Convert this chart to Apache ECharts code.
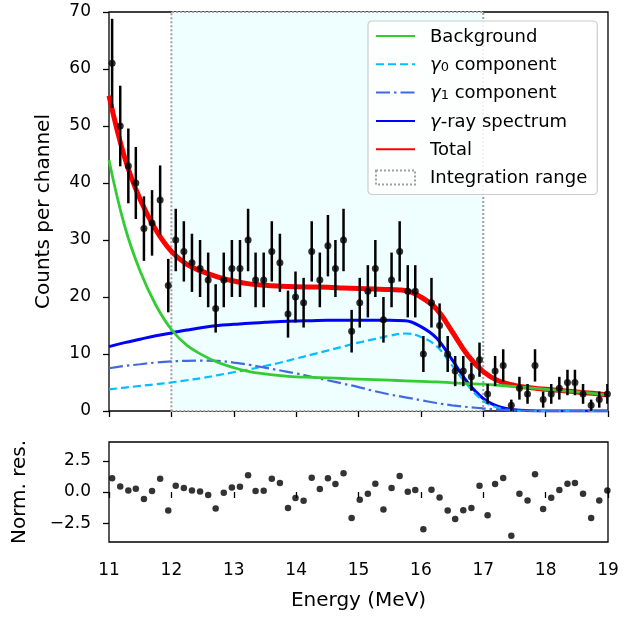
<!DOCTYPE html>
<html>
<head>
<meta charset="utf-8">
<script src="https://cdn.jsdelivr.net/npm/echarts@6/dist/echarts.min.js"></script>
<style>
html, body { margin: 0; padding: 0; background: #fff; }
#chart { width: 634px; height: 618px; }
</style>
</head>
<body>
<div id="chart"></div>
<script>
// channel centres (MeV) and counts
const energies = [11.05, 11.18, 11.31, 11.43, 11.56, 11.69, 11.82, 11.95, 12.07, 12.20,
    12.33, 12.46, 12.59, 12.71, 12.84, 12.97, 13.10, 13.23, 13.35, 13.48,
    13.61, 13.74, 13.87, 13.99, 14.12, 14.25, 14.38, 14.51, 14.63, 14.76,
    14.89, 15.02, 15.15, 15.27, 15.40, 15.53, 15.66, 15.79, 15.91, 16.04,
    16.17, 16.30, 16.43, 16.55, 16.68, 16.81, 16.94, 17.07, 17.19, 17.32,
    17.45, 17.58, 17.71, 17.83, 17.96, 18.09, 18.22, 18.35, 18.47, 18.60,
    18.73, 18.86, 18.99];
const counts = [61, 50, 43, 40, 32, 33, 37, 22, 30, 28,
    26, 25, 23, 18, 23, 25, 25, 30, 23, 23,
    28, 26, 17, 20, 19, 28, 23, 29, 25, 30,
    14, 19, 21, 25, 16, 23, 28, 21, 21, 10,
    19, 15, 10, 7, 7, 6, 9, 3, 7, 8,
    1, 4, 3, 8, 2, 3, 4, 5, 5, 3,
    1, 2, 3];
const residuals = [1.1, 0.45, 0.13, 0.27, -0.56, 0.08, 1.07, -1.48, 0.5, 0.32,
    0.13, 0.05, -0.24, -1.32, -0.06, 0.37, 0.43, 1.34, 0.08, 0.1,
    1.07, 0.72, -1.27, -0.48, -0.7, 1.15, 0.24, 1.1, 0.64, 1.5,
    -2.07, -0.62, -0.14, 0.67, -1.4, 0.32, 1.29, 0.02, 0.16, -2.98,
    0.19, -0.43, -1.48, -2.15, -1.45, -1.27, 0.51, -1.86, 0.64, 1.13,
    -3.5, -0.14, -0.68, 1.42, -1.35, -0.46, 0.16, 0.67, 0.72, -0.14,
    -2.07, -0.68, 0.13];

// fit curves read every 0.25 MeV
const curveE = [11, 11.25, 11.5, 11.75, 12, 12.25, 12.5, 12.75, 13, 13.25, 13.5, 13.75,
    14, 14.25, 14.5, 14.75, 15, 15.25, 15.5, 15.75, 16, 16.25, 16.5, 16.75,
    17, 17.25, 17.5, 17.75, 18, 18.25, 18.5, 18.75, 19];
const background = [44.0, 32.5, 24.5, 18.6, 14.3, 11.5, 9.8, 8.5, 7.6, 6.9, 6.5, 6.2,
    6.0, 5.9, 5.8, 5.7, 5.6, 5.5, 5.4, 5.3, 5.2, 5.1, 4.95, 4.8,
    4.7, 4.5, 4.3, 4.05, 3.8, 3.6, 3.35, 3.1, 2.8];
const gamma0 = [3.8, 4.1, 4.4, 4.7, 5.0, 5.4, 5.8, 6.3, 6.8, 7.3, 7.9, 8.5,
    9.2, 9.9, 10.6, 11.3, 12.0, 12.6, 13.2, 13.6, 13.0, 11.4, 8.0, 4.5,
    1.8, 0.5, 0.1, 0, 0, 0, 0, 0, 0];
const gamma1 = [7.5, 7.9, 8.2, 8.5, 8.7, 8.8, 8.85, 8.8, 8.5, 8.1, 7.6, 7.1,
    6.6, 6.0, 5.4, 4.8, 4.2, 3.5, 2.9, 2.4, 1.9, 1.4, 1.0, 0.7,
    0.45, 0.25, 0.1, 0.05, 0, 0, 0, 0, 0];
const gammaSpectrum = [11.3, 12.0, 12.6, 13.2, 13.7, 14.2, 14.65, 15.0, 15.2, 15.4, 15.55, 15.7,
    15.8, 15.85, 15.9, 15.9, 15.9, 15.9, 15.9, 15.85, 14.8, 12.8, 9.0, 5.0,
    2.2, 0.75, 0.2, 0.05, 0, 0, 0, 0, 0];
const total = [55.3, 44.5, 37.1, 31.8, 28.0, 25.7, 24.45, 23.5, 22.8, 22.3, 22.05, 21.9,
    21.8, 21.75, 21.7, 21.6, 21.5, 21.4, 21.3, 21.15, 20.0, 17.9, 13.95, 9.8,
    6.9, 5.25, 4.5, 4.1, 3.8, 3.6, 3.35, 3.1, 2.8];

const integrationRange = [12, 17];
const resTicks = [-2.5, 0, 2.5];

const FONT = 'DejaVu Sans';
const pairs = (xs, ys) => xs.map((x, i) => [x, ys[i]]);

const legendLabels = {
    'Background': '{t|Background}',
    'γ0 component': '{g|γ}{s|0}{t| component}',
    'γ1 component': '{g|γ}{s|1}{t| component}',
    'γ-ray spectrum': '{g|γ}{t|-ray spectrum}',
    'Total': '{t|Total}',
    'Integration range': '{t|Integration range}',
};

const noDot = { color: 'rgba(0,0,0,0)', borderWidth: 0 };

function curve(name, ys, color, width, type, z) {
    return {
        name: name,
        type: 'line',
        xAxisIndex: 0,
        yAxisIndex: 0,
        data: pairs(curveE, ys),
        symbol: 'none',
        smooth: 0.4,
        z: z,
        lineStyle: { color: color, width: width, type: type },
        itemStyle: { color: color },
    };
}

const option = {
    animation: false,
    textStyle: { fontFamily: FONT },
    grid: [
        { left: 109, right: 26, top: 12, height: 399, show: true, borderColor: '#000', borderWidth: 1.3, backgroundColor: 'transparent' },
        { left: 109, right: 26, top: 442, height: 100, show: true, borderColor: '#000', borderWidth: 1.3, backgroundColor: 'transparent' },
    ],
    legend: {
        orient: 'vertical',
        left: 368,
        top: 21,
        itemWidth: 39,
        itemHeight: 14,
        itemGap: 8.3,
        padding: [7, 10, 7, 7],
        backgroundColor: 'rgba(255,255,255,0.85)',
        borderColor: '#cccccc',
        borderWidth: 1.2,
        borderRadius: 4,
        selectedMode: false,
        formatter: name => legendLabels[name],
        textStyle: {
            padding: [0, 0, 0, 10],
            rich: {
                t: { fontFamily: FONT, fontSize: 18, color: '#000', lineHeight: 20, verticalAlign: 'bottom' },
                g: { fontFamily: FONT, fontSize: 18, color: '#000', lineHeight: 20, verticalAlign: 'bottom', fontStyle: 'italic' },
                s: { fontFamily: FONT, fontSize: 13, color: '#000', lineHeight: 10, verticalAlign: 'bottom' },
            },
        },
        data: [
            { name: 'Background', itemStyle: noDot },
            { name: 'γ0 component', itemStyle: noDot },
            { name: 'γ1 component', itemStyle: noDot },
            { name: 'γ-ray spectrum', itemStyle: noDot },
            { name: 'Total', itemStyle: noDot },
            { name: 'Integration range', icon: 'rect', itemStyle: { color: 'rgba(0,0,0,0)', borderColor: '#a0a0a0', borderWidth: 2, borderType: 'dotted' } },
        ],
    },
    xAxis: [
        {
            type: 'value', gridIndex: 0, min: 11, max: 19, interval: 1,
            axisLine: { show: false },
            splitLine: { show: false },
            axisTick: { show: true, length: 6, lineStyle: { color: '#000', width: 1.3 } },
            axisLabel: { show: false },
        },
        {
            type: 'value', gridIndex: 1, min: 11, max: 19, interval: 1,
            axisLine: { show: false },
            splitLine: { show: false },
            axisTick: { show: true, length: 6, lineStyle: { color: '#000', width: 1.3 } },
            axisLabel: { fontFamily: FONT, fontSize: 17, color: '#000', margin: 20 },
            name: 'Energy (MeV)', nameLocation: 'middle', nameGap: 49,
            nameTextStyle: { fontFamily: FONT, fontSize: 20, color: '#000' },
        },
    ],
    yAxis: [
        {
            type: 'value', gridIndex: 0, min: 0, max: 70, interval: 10,
            axisLine: { show: false },
            splitLine: { show: false },
            axisTick: { show: true, length: 6, lineStyle: { color: '#000', width: 1.3 } },
            axisLabel: { fontFamily: FONT, fontSize: 17, color: '#000', margin: 18 },
            name: 'Counts per channel', nameLocation: 'middle', nameGap: 55, nameRotate: 90,
            nameTextStyle: { fontFamily: FONT, fontSize: 20, color: '#000' },
        },
        {
            type: 'value', gridIndex: 1, min: -4, max: 4,
            axisLine: { show: false },
            splitLine: { show: false },
            axisTick: { show: true, length: 6, customValues: resTicks, lineStyle: { color: '#000', width: 1.3 } },
            axisLabel: {
                fontFamily: FONT, fontSize: 17, color: '#000', margin: 18,
                customValues: resTicks,
                formatter: v => (v < 0 ? '\u2212' : '') + Math.abs(v).toFixed(1),
            },
            name: 'Norm. res.', nameLocation: 'middle', nameGap: 79, nameRotate: 90,
            nameTextStyle: { fontFamily: FONT, fontSize: 20, color: '#000' },
        },
    ],
    series: [
        {
            name: 'Integration range',
            type: 'line',
            xAxisIndex: 0,
            yAxisIndex: 0,
            data: [],
            z: 1,
            markArea: {
                silent: true,
                itemStyle: { color: '#effefe', borderColor: '#a0a0a0', borderWidth: 2, borderType: 'dotted' },
                data: [[{ xAxis: integrationRange[0] }, { xAxis: integrationRange[1] }]],
            },
        },
        curve('Total', total, '#ff0000', 5, 'solid', 2),
        curve('γ-ray spectrum', gammaSpectrum, '#0000ff', 3, 'solid', 3),
        curve('γ0 component', gamma0, '#00bfff', 2.2, [8, 4], 3),
        curve('γ1 component', gamma1, '#4169e1', 2.2, [14, 4, 2.5, 4], 3),
        curve('Background', background, '#33cc33', 2.8, 'solid', 3),
        {
            type: 'custom',
            xAxisIndex: 0,
            yAxisIndex: 0,
            z: 5,
            clip: true,
            data: energies.map((e, i) => [e, counts[i], Math.sqrt(counts[i])]),
            renderItem: (params, api) => {
                const x = api.value(0), y = api.value(1), err = api.value(2);
                const lo = api.coord([x, y - err]);
                const hi = api.coord([x, y + err]);
                return {
                    type: 'line',
                    shape: { x1: lo[0], y1: lo[1], x2: hi[0], y2: hi[1] },
                    style: { stroke: '#000', lineWidth: 2.5 },
                };
            },
        },
        {
            type: 'scatter',
            xAxisIndex: 0,
            yAxisIndex: 0,
            z: 6,
            symbolSize: 7,
            itemStyle: { color: '#000' },
            data: pairs(energies, counts),
        },
        {
            type: 'scatter',
            xAxisIndex: 1,
            yAxisIndex: 1,
            z: 6,
            symbolSize: 6.5,
            itemStyle: { color: '#000' },
            data: pairs(energies, residuals),
        },
    ],
};

// spread the legend rows to the reference spacing
option.legend.itemGap = 10.3;

const chart = echarts.init(document.getElementById('chart'));
chart.setOption(option);
window.addEventListener('resize', () => {
    chart.resize();
});
</script>
</body>
</html>
